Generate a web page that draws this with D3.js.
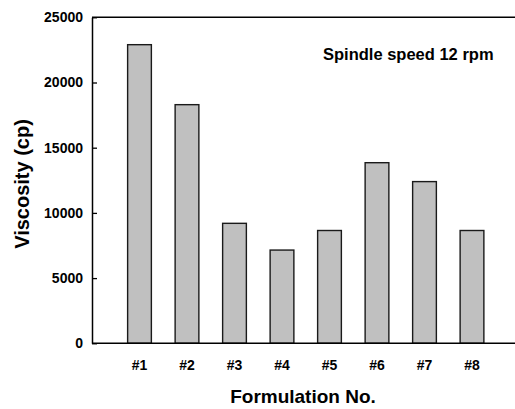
<!DOCTYPE html>
<html>
<head>
<meta charset="utf-8">
<script src="https://cdn.jsdelivr.net/npm/d3@7"></script>
<style>
  html, body { margin: 0; padding: 0; background: #fff; }
  svg { display: block; font-family: Arial, "Liberation Sans", Helvetica, sans-serif; }
</style>
</head>
<body>
<svg id="chart" width="515" height="409"></svg>
<script>
// Viscosity of each formulation measured at 12 rpm spindle speed
const formulations = ["#1", "#2", "#3", "#4", "#5", "#6", "#7", "#8"];
const viscosity = [22900, 18300, 9200, 7150, 8650, 13850, 12400, 8650];
const yTicks = [0, 5000, 10000, 15000, 20000, 25000];

const svg = d3.select("#chart");
const plotLeft = 92, plotTop = 17.3, plotBottom = 343.3;
const step = 47.5;

const x = d3.scaleBand()
  .domain(formulations)
  .range([plotLeft, plotLeft + 9 * step])
  .paddingInner(0.5)
  .paddingOuter(0.75);

const y = d3.scaleLinear()
  .domain([0, 25000])
  .range([plotBottom, plotTop]);

// bars
svg.append("g")
  .selectAll("rect")
  .data(formulations)
  .join("rect")
  .attr("x", d => x(d))
  .attr("width", x.bandwidth())
  .attr("y", (d, i) => y(viscosity[i]))
  .attr("height", (d, i) => y(0) - y(viscosity[i]))
  .attr("fill", "#c0c0c0")
  .attr("stroke", "#1a1a1a")
  .attr("stroke-width", 1.4);

// top frame line
svg.append("line")
  .attr("x1", plotLeft).attr("x2", 515)
  .attr("y1", plotTop).attr("y2", plotTop)
  .attr("stroke", "#000").attr("stroke-width", 1.5);

// y axis with inward ticks
const yAxis = svg.append("g")
  .attr("transform", `translate(${plotLeft},0)`)
  .call(d3.axisLeft(y).tickValues(yTicks).tickFormat(d3.format("d"))
    .tickSizeInner(-5).tickSizeOuter(0).tickPadding(9));
yAxis.select(".domain").attr("stroke", "#000").attr("stroke-width", 1.5);
yAxis.selectAll(".tick line").attr("stroke", "#000").attr("stroke-width", 1.3);
yAxis.selectAll("text")
  .attr("fill", "#000")
  .style("font-size", "14px")
  .style("font-weight", "bold")
  .style("font-family", "Arial, 'Liberation Sans', sans-serif");

// x axis
const xAxis = svg.append("g")
  .attr("transform", `translate(0,${plotBottom})`)
  .call(d3.axisBottom(x).tickSize(0).tickPadding(17));
xAxis.select(".domain").attr("d", `M${plotLeft},0H515`).attr("stroke", "#000").attr("stroke-width", 1.5);
xAxis.selectAll("text")
  .attr("fill", "#000")
  .style("font-size", "14px")
  .style("font-weight", "bold")
  .style("font-family", "Arial, 'Liberation Sans', sans-serif");

// axis titles
svg.append("text")
  .attr("x", 303).attr("y", 403)
  .attr("text-anchor", "middle")
  .style("font-size", "19px").style("font-weight", "bold")
  .text("Formulation No.");

svg.append("text")
  .attr("transform", "translate(29,184) rotate(-90)")
  .attr("text-anchor", "middle")
  .style("font-size", "20px").style("font-weight", "bold")
  .text("Viscosity (cp)");

// annotation
svg.append("text")
  .attr("x", 323).attr("y", 59.5)
  .style("font-size", "16.5px").style("font-weight", "bold")
  .text("Spindle speed 12 rpm");
</script>
</body>
</html>
